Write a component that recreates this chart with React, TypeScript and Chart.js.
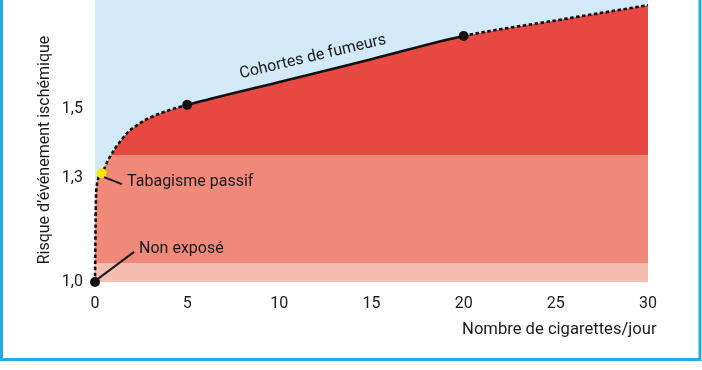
import React, { useEffect, useRef } from "react";
import { Chart, registerables } from "chart.js";

Chart.register(...registerables);

// ---- data ----
const cigarettes = [0, 0.04, 0.07, 0.36, 0.72, 1.09, 1.45, 1.81, 2.35, 2.89, 3.62, 4.34, 5, 10, 15, 20, 25, 30];
const risk = [1.0, 1.208, 1.266, 1.314, 1.353, 1.386, 1.412, 1.434, 1.456, 1.473, 1.489, 1.502, 1.512, 1.578, 1.644, 1.711, 1.756, 1.8];
const keyCigarettes = [0, 0.36, 5, 20];
const keyRisk = [1.0, 1.314, 1.512, 1.711];
const keyColors = ["#111111", "#ffe600", "#111111", "#111111"];
const bandLevels = [1.0, 1.055, 1.367];
const bandColors = ["#f6bdb1", "#ef8a7a"];
const xTicks = [0, 5, 10, 15, 20, 25, 30];
const yTicks = [1.0, 1.3, 1.5];
const solidFrom = 5;
const solidTo = 20;
const yTitle = "Risque d\u2019événement ischémique";
const xTitle = "Nombre de cigarettes/jour";
const curveLabel = "Cohortes de fumeurs";
const passiveLabel = "Tabagisme passif";
const unexposedLabel = "Non exposé";

const SKY = "#d2e9f7";
const RED = "#e84842";
const FRAME = "#29a9e1";
const INK = "#1a1a1a";
const FONT = "Roboto, 'DejaVu Sans', sans-serif";
const FS = 16;

const decoPlugin = {
  id: "deco",
  beforeDatasetsDraw(chart: any) {
    const { ctx, chartArea: a, scales } = chart;
    ctx.save();
    ctx.fillStyle = SKY;
    ctx.fillRect(a.left, a.top, a.right - a.left, a.bottom - a.top);
    const meta = chart.getDatasetMeta(1);
    const line: any = meta.dataset;
    const pts: any[] = meta.data;
    line.updateControlPoints(a, "x");
    ctx.beginPath();
    ctx.moveTo(pts[0].x, pts[0].y);
    for (let i = 1; i < pts.length; i++) {
      const p = pts[i - 1];
      const q = pts[i];
      ctx.bezierCurveTo(p.cp2x, p.cp2y, q.cp1x, q.cp1y, q.x, q.y);
    }
    ctx.lineTo(pts[pts.length - 1].x, a.bottom);
    ctx.lineTo(pts[0].x, a.bottom);
    ctx.closePath();
    ctx.clip();
    ctx.fillStyle = RED;
    ctx.fillRect(a.left - 2, a.top, a.right - a.left + 4, a.bottom - a.top);
    for (let i = 0; i < bandColors.length; i++) {
      const y0 = scales.y.getPixelForValue(bandLevels[i]);
      const y1 = scales.y.getPixelForValue(bandLevels[i + 1]);
      ctx.fillStyle = bandColors[i];
      ctx.fillRect(a.left - 2, y1, a.right - a.left + 4, y0 - y1);
    }
    ctx.restore();
  },
  afterDatasetsDraw(chart: any) {
    const { ctx, scales } = chart;
    const X = (v: number) => scales.x.getPixelForValue(v);
    const Y = (v: number) => scales.y.getPixelForValue(v);
    ctx.save();
    ctx.strokeStyle = INK;
    ctx.lineWidth = 2;
    ctx.lineCap = "butt";
    // leader lines
    ctx.beginPath();
    ctx.moveTo(X(0.49), Y(1.303));
    ctx.lineTo(X(1.46), Y(1.283));
    ctx.moveTo(X(0.16), Y(1.009));
    ctx.lineTo(X(2.12), Y(1.087));
    ctx.stroke();
    ctx.fillStyle = INK;
    ctx.font = `${FS}px ${FONT}`;
    ctx.textBaseline = "middle";
    ctx.textAlign = "left";
    ctx.fillText(passiveLabel, X(1.74), Y(1.289));
    ctx.fillText(unexposedLabel, X(2.39), Y(1.095));
    // curve label
    ctx.save();
    ctx.translate(X(11.87), Y(1.639));
    ctx.rotate((-13.3 * Math.PI) / 180);
    ctx.textAlign = "center";
    ctx.textBaseline = "alphabetic";
    ctx.fillText(curveLabel, 0, 0);
    ctx.restore();
    // axis titles
    ctx.font = `16.6px ${FONT}`;
    ctx.textAlign = "right";
    ctx.textBaseline = "middle";
    ctx.fillText(xTitle, 656.5, 330);
    ctx.font = `${FS}px ${FONT}`;
    ctx.save();
    ctx.translate(45, 150);
    ctx.rotate(-Math.PI / 2);
    ctx.textAlign = "center";
    ctx.fillText(yTitle, 0, 0);
    ctx.restore();
    // frame
    ctx.strokeStyle = FRAME;
    ctx.lineWidth = 3;
    ctx.beginPath();
    ctx.moveTo(1.5, 0);
    ctx.lineTo(1.5, 359.5);
    ctx.lineTo(700, 359.5);
    ctx.lineTo(700, 0);
    ctx.stroke();
    ctx.restore();
  },
};

export default function App() {
  const ref = useRef<HTMLCanvasElement>(null);
  useEffect(() => {
    document.body.style.margin = "0";
    document.body.style.background = "#ffffff";
    const canvas = ref.current!;
    const chart = new Chart(canvas, {
      type: "line",
      data: {
        datasets: [
          {
            label: "points",
            data: keyCigarettes.map((x, i) => ({ x, y: keyRisk[i] })),
            showLine: false,
            pointRadius: 5,
            pointHoverRadius: 5,
            pointBorderWidth: 0,
            pointBackgroundColor: keyColors,
            pointBorderColor: keyColors,
            clip: false as any,
          },
          {
            label: "courbe",
            data: cigarettes.map((x, i) => ({ x, y: risk[i] })),
            borderColor: "#111111",
            borderWidth: 2.6,
            pointRadius: 0,
            fill: false,
            cubicInterpolationMode: "monotone",
            clip: false as any,
            segment: {
              borderDash: (c: any) =>
                c.p0.parsed.x >= solidFrom && c.p1.parsed.x <= solidTo ? [] : [3.5, 2.5],
            },
          },
        ],
      },
      options: {
        animation: false,
        responsive: false,
        events: [],
        layout: { autoPadding: false, padding: { left: 0, right: 54, top: 0, bottom: 0 } },
        plugins: { legend: { display: false }, tooltip: { enabled: false } },
        scales: {
          x: {
            type: "linear",
            min: 0,
            max: 30,
            grid: { display: false, drawTicks: false },
            border: { display: false },
            afterBuildTicks: (s: any) => {
              s.ticks = xTicks.map((v) => ({ value: v }));
            },
            afterFit: (s: any) => {
              s.height = 88;
              s.paddingLeft = 0;
              s.paddingRight = 0;
            },
            ticks: {
              padding: 12,
              maxRotation: 0,
              color: INK,
              font: { family: FONT, size: FS },
              callback: (v: any) => String(v),
            },
          },
          y: {
            type: "linear",
            min: 1.0,
            max: 1.815,
            grid: { display: false, drawTicks: false },
            border: { display: false },
            afterBuildTicks: (s: any) => {
              s.ticks = yTicks.map((v) => ({ value: v }));
            },
            afterFit: (s: any) => {
              s.width = 95;
              s.paddingTop = 0;
              s.paddingBottom = 0;
            },
            ticks: {
              padding: 12,
              color: INK,
              font: { family: FONT, size: FS },
              callback: (v: any) => Number(v).toFixed(1).replace(".", ","),
            },
          },
        },
      },
      plugins: [decoPlugin],
    });
    return () => chart.destroy();
  }, []);
  return (
    <div style={{ width: 702, height: 370, position: "relative" }}>
      <canvas ref={ref} width={702} height={370} style={{ display: "block" }} />
    </div>
  );
}
